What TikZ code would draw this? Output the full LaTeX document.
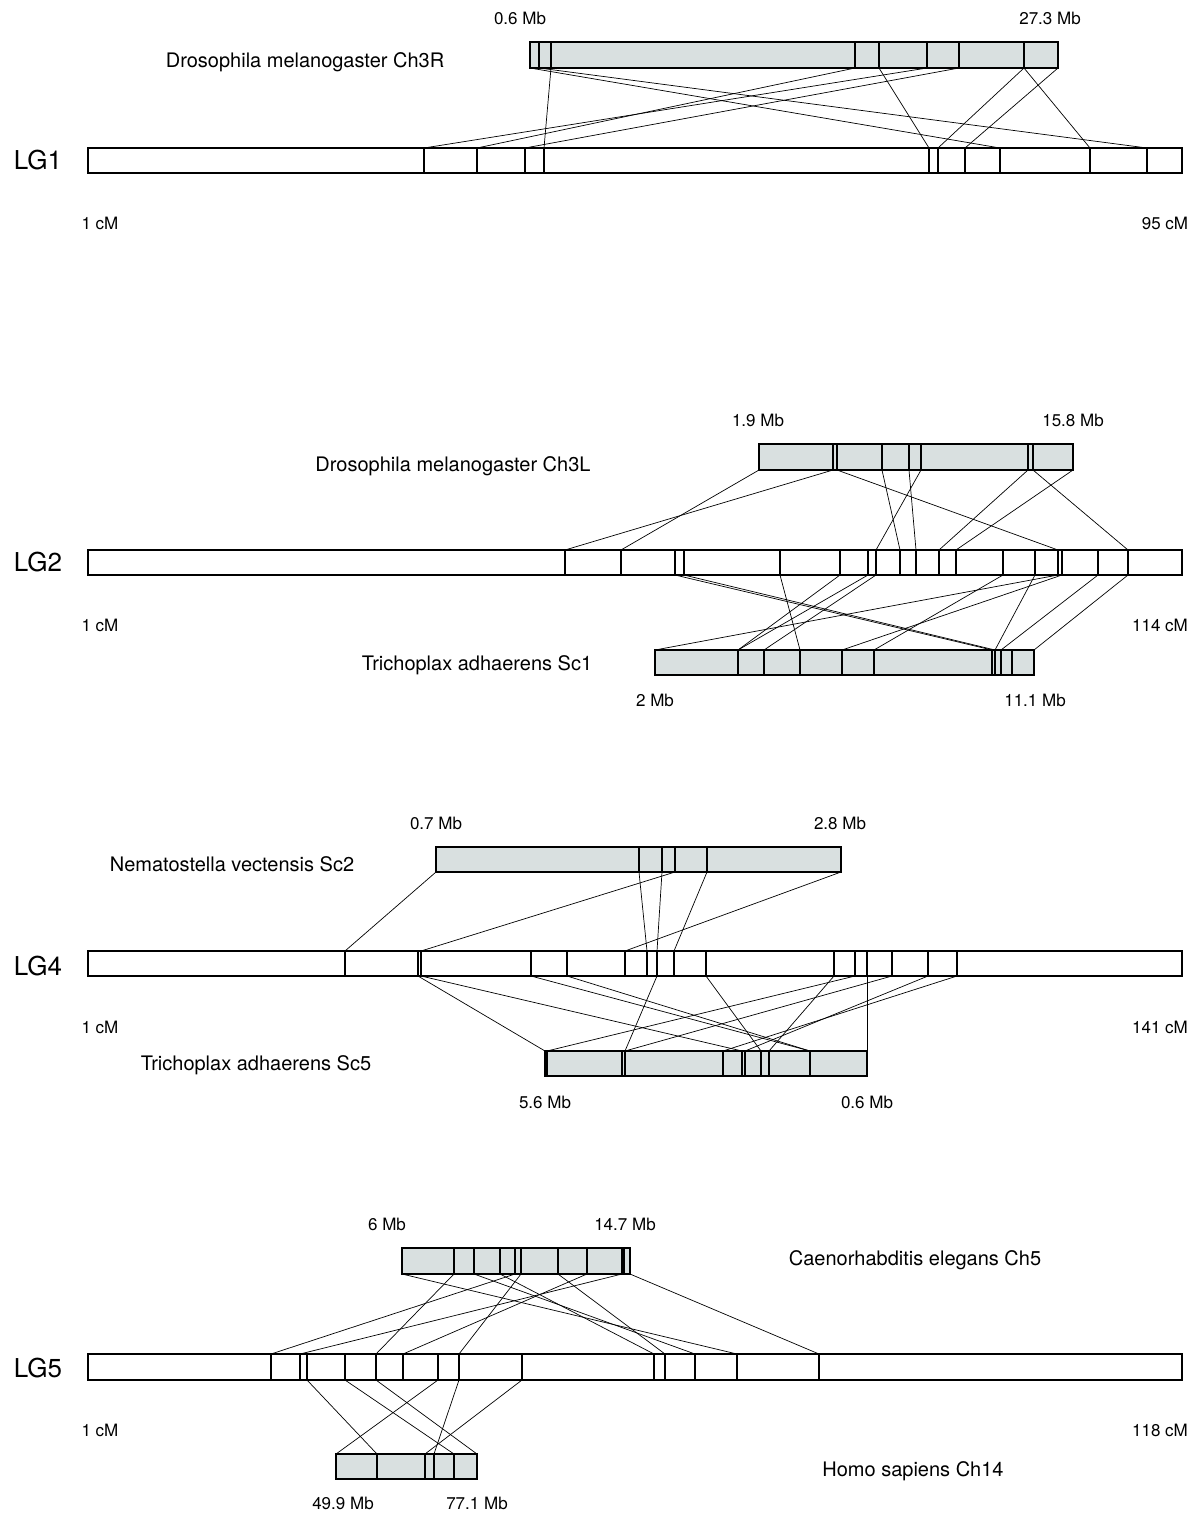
\documentclass[tikz,border=0pt]{standalone}
\usepackage{fontspec}
\setmainfont{TeX Gyre Heros}
\definecolor{chrgrey}{RGB}{217,224,224}

% one chromosome bar: name, top y, bottom y, fill, left x, right x, inner ticks
\newcommand{\chrbar}[7]{%
  \draw[chr, fill=#4] (#5,#2) rectangle (#6,#3);
  \foreach \x in {#5,#6,#7} {
    \coordinate (#1-t-\x) at (\x,#2);
    \coordinate (#1-b-\x) at (\x,#3);
  }
  \foreach \x in {#7} \draw[chr] (#1-t-\x) -- (#1-b-\x);
}

\tikzset{
  chr/.style={line width=1.3pt, black},
  link/.style={line width=0.7pt, black},
  lg/.style={font=\fontsize{26}{30}\selectfont},
  species/.style={font=\fontsize{20}{24}\selectfont},
  mb/.style={font=\fontsize{17}{20}\selectfont}
}

\begin{document}
\begin{tikzpicture}[x=1pt, y=-1pt]
  \useasboundingbox (0,0) rectangle (1200,1516);

  % LG1
  \chrbar{dmR}{42}{68}{chrgrey}{530}{1058}{539,551,855,879,927,959,1024}
  \chrbar{lga}{148}{173}{white}{88}{1182}{424,477,525,544,929,938,965,1000,1090,1147}
  \draw[link] (dmR-b-530) -- (lga-t-1000);
  \draw[link] (dmR-b-539) -- (lga-t-1147);
  \draw[link] (dmR-b-551) -- (lga-t-544);
  \draw[link] (dmR-b-855) -- (lga-t-477);
  \draw[link] (dmR-b-927) -- (lga-t-424);
  \draw[link] (dmR-b-959) -- (lga-t-525);
  \draw[link] (dmR-b-879) -- (lga-t-929);
  \draw[link] (dmR-b-1024) -- (lga-t-938);
  \draw[link] (dmR-b-1058) -- (lga-t-965);
  \draw[link] (dmR-b-1024) -- (lga-t-1090);
  \node[mb] (dmRl) at (520,18) {0.6 Mb};
  \node[mb] (dmRr) at (1050,18) {27.3 Mb};
  \node[species] (dmRn) at (305,62) {Drosophila melanogaster Ch3R};
  \node[lg] (lgan) at (38,160) {LG1};
  \node[mb] (lgal) at (100,223) {1 cM};
  \node[mb] (lgar) at (1165,223) {95 cM};

  % LG2
  \chrbar{dmL}{444}{470}{chrgrey}{759}{1073}{833,837,882,909,921,1028,1033}
  \chrbar{lgb}{550}{575}{white}{88}{1182}{565,621,675,684,780,840,868,876,900,916,939,956,1003,1035,1058,1062,1098,1128}
  \chrbar{taa}{650}{675}{chrgrey}{655}{1034}{738,764,800,842,874,992,995,1001,1012}
  \draw[link] (dmL-b-759) -- (lgb-t-621);
  \draw[link] (dmL-b-833) -- (lgb-t-565);
  \draw[link] (dmL-b-837) -- (lgb-t-1058);
  \draw[link] (dmL-b-882) -- (lgb-t-900);
  \draw[link] (dmL-b-921) -- (lgb-t-876);
  \draw[link] (dmL-b-909) -- (lgb-t-916);
  \draw[link] (dmL-b-1028) -- (lgb-t-939);
  \draw[link] (dmL-b-1073) -- (lgb-t-956);
  \draw[link] (dmL-b-1033) -- (lgb-t-1128);
  \draw[link] (lgb-b-675) -- (taa-t-992);
  \draw[link] (lgb-b-684) -- (taa-t-995);
  \draw[link] (lgb-b-780) -- (taa-t-800);
  \draw[link] (lgb-b-840) -- (taa-t-738);
  \draw[link] (lgb-b-868) -- (taa-t-738);
  \draw[link] (lgb-b-876) -- (taa-t-764);
  \draw[link] (lgb-b-1003) -- (taa-t-874);
  \draw[link] (lgb-b-1035) -- (taa-t-995);
  \draw[link] (lgb-b-1058) -- (taa-t-655);
  \draw[link] (lgb-b-1062) -- (taa-t-842);
  \draw[link] (lgb-b-1098) -- (taa-t-1001);
  \draw[link] (lgb-b-1128) -- (taa-t-1034);
  \node[mb] (dmLl) at (758,420) {1.9 Mb};
  \node[mb] (dmLr) at (1073,420) {15.8 Mb};
  \node[species] (dmLn) at (453,466) {Drosophila melanogaster Ch3L};
  \node[lg] (lgbn) at (38,562) {LG2};
  \node[mb] (lgbl) at (100,625) {1 cM};
  \node[mb] (lgbr) at (1160,625) {114 cM};
  \node[species] (taan) at (477,665) {Trichoplax adhaerens Sc1};
  \node[mb] (taal) at (655,700) {2 Mb};
  \node[mb] (taar) at (1035,700) {11.1 Mb};

  % LG4
  \chrbar{nvs}{847}{872}{chrgrey}{436}{841}{639,662,675,707}
  \chrbar{lgc}{951}{976}{white}{88}{1182}{345,418,421,531,567,625,647,657,674,706,834,855,867,892,928,957}
  \chrbar{tab}{1051}{1076}{chrgrey}{545}{867}{547,622,625,723,742,745,761,769,810}
  \draw[link] (nvs-b-436) -- (lgc-t-345);
  \draw[link] (nvs-b-675) -- (lgc-t-421);
  \draw[link] (nvs-b-662) -- (lgc-t-657);
  \draw[link] (nvs-b-639) -- (lgc-t-647);
  \draw[link] (nvs-b-707) -- (lgc-t-674);
  \draw[link] (nvs-b-841) -- (lgc-t-625);
  \draw[link] (lgc-b-418) -- (tab-t-545);
  \draw[link] (lgc-b-421) -- (tab-t-742);
  \draw[link] (lgc-b-531) -- (tab-t-810);
  \draw[link] (lgc-b-567) -- (tab-t-810);
  \draw[link] (lgc-b-657) -- (tab-t-625);
  \draw[link] (lgc-b-706) -- (tab-t-761);
  \draw[link] (lgc-b-834) -- (tab-t-769);
  \draw[link] (lgc-b-855) -- (tab-t-547);
  \draw[link] (lgc-b-867) -- (tab-t-867);
  \draw[link] (lgc-b-892) -- (tab-t-625);
  \draw[link] (lgc-b-928) -- (tab-t-745);
  \draw[link] (lgc-b-957) -- (tab-t-723);
  \node[mb] (nvsl) at (436,823) {0.7 Mb};
  \node[mb] (nvsr) at (840,823) {2.8 Mb};
  \node[species] (nvsn) at (232,864) {Nematostella vectensis Sc2};
  \node[lg] (lgcn) at (38,966) {LG4};
  \node[mb] (lgcl) at (100,1027) {1 cM};
  \node[mb] (lgcr) at (1160,1027) {141 cM};
  \node[species] (tabn) at (256,1065) {Trichoplax adhaerens Sc5};
  \node[mb] (tabl) at (545,1102) {5.6 Mb};
  \node[mb] (tabr) at (867,1102) {0.6 Mb};

  % LG5
  \chrbar{cel}{1248}{1274}{chrgrey}{402}{630}{454,474,500,515,521,558,587,622,624}
  \chrbar{lgd}{1354}{1380}{white}{88}{1182}{271,300,307,345,376,403,438,459,522,654,665,695,737,819}
  \chrbar{hsa}{1454}{1479}{chrgrey}{336}{477}{377,425,434,454}
  \draw[link] (cel-b-402) -- (lgd-t-737);
  \draw[link] (cel-b-474) -- (lgd-t-695);
  \draw[link] (cel-b-500) -- (lgd-t-654);
  \draw[link] (cel-b-558) -- (lgd-t-665);
  \draw[link] (cel-b-515) -- (lgd-t-271);
  \draw[link] (cel-b-622) -- (lgd-t-300);
  \draw[link] (cel-b-587) -- (lgd-t-403);
  \draw[link] (cel-b-521) -- (lgd-t-459);
  \draw[link] (cel-b-454) -- (lgd-t-376);
  \draw[link] (cel-b-630) -- (lgd-t-819);
  \draw[link] (lgd-b-307) -- (hsa-t-377);
  \draw[link] (lgd-b-345) -- (hsa-t-454);
  \draw[link] (lgd-b-376) -- (hsa-t-477);
  \draw[link] (lgd-b-438) -- (hsa-t-336);
  \draw[link] (lgd-b-459) -- (hsa-t-434);
  \draw[link] (lgd-b-522) -- (hsa-t-425);
  \node[mb] (cell) at (387,1224) {6 Mb};
  \node[mb] (celr) at (625,1224) {14.7 Mb};
  \node[species] (celn) at (915,1260) {Caenorhabditis elegans Ch5};
  \node[lg] (lgdn) at (38,1368) {LG5};
  \node[mb] (lgdl) at (100,1430) {1 cM};
  \node[mb] (lgdr) at (1160,1430) {118 cM};
  \node[species] (hsan) at (913,1471) {Homo sapiens Ch14};
  \node[mb] (hsal) at (343,1503) {49.9 Mb};
  \node[mb] (hsar) at (477,1503) {77.1 Mb};
\end{tikzpicture}
\end{document}
